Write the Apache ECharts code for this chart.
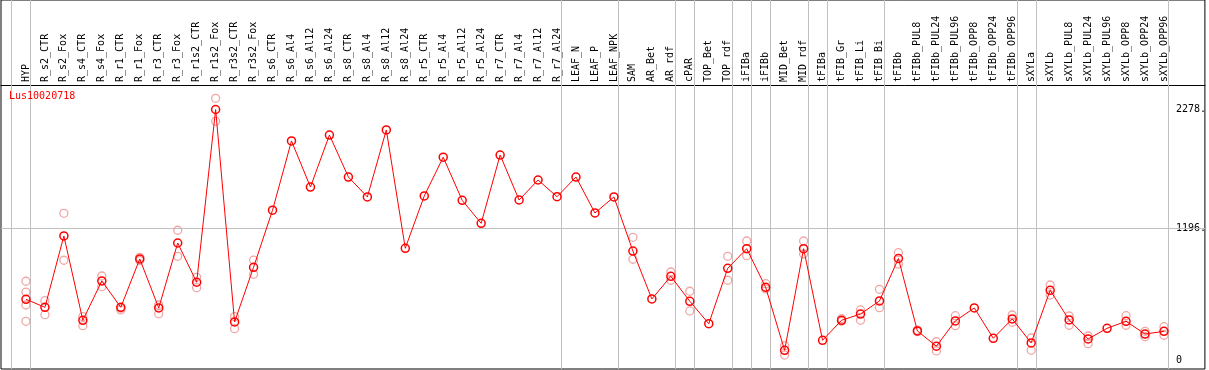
<!DOCTYPE html>
<html>
<head>
<meta charset="utf-8">
<script src="https://cdn.jsdelivr.net/npm/echarts@6/dist/echarts.min.js"></script>
<style>
  html, body { margin: 0; padding: 0; background: #fff; }
  #chart { width: 1209px; height: 370px; }
</style>
</head>
<body>
<div id="chart"></div>
<script>
var geneName = 'Lus10020718';

var categories = [
    'HYP', 'R_s2_CTR', 'R_s2_Fox', 'R_s4_CTR', 'R_s4_Fox', 'R_r1_CTR', 'R_r1_Fox',
    'R_r3_CTR', 'R_r3_Fox', 'R_r1s2_CTR', 'R_r1s2_Fox', 'R_r3s2_CTR', 'R_r3s2_Fox',
    'R_s6_CTR', 'R_s6_Al4', 'R_s6_Al12', 'R_s6_Al24', 'R_s8_CTR', 'R_s8_Al4',
    'R_s8_Al12', 'R_s8_Al24', 'R_r5_CTR', 'R_r5_Al4', 'R_r5_Al12', 'R_r5_Al24',
    'R_r7_CTR', 'R_r7_Al4', 'R_r7_Al12', 'R_r7_Al24', 'LEAF_N', 'LEAF_P', 'LEAF_NPK',
    'SAM', 'AR_Bet', 'AR_rdf', 'cPAR', 'TOP_Bet', 'TOP_rdf', 'iFIBa', 'iFIBb',
    'MID_Bet', 'MID_rdf', 'tFIBa', 'tFIB_Gr', 'tFIB_Li', 'tFIB_Bi', 'tFIBb',
    'tFIBb_PUL8', 'tFIBb_PUL24', 'tFIBb_PUL96', 'tFIBb_OPP8', 'tFIBb_OPP24', 'tFIBb_OPP96',
    'sXYLa', 'sXYLb', 'sXYLb_PUL8', 'sXYLb_PUL24', 'sXYLb_PUL96', 'sXYLb_OPP8',
    'sXYLb_OPP24', 'sXYLb_OPP96'
];

// mean expression per sample
var meanValues = [
    552, 479, 1128, 361, 719, 479, 919,
    473, 1064, 707, 2278, 346, 843,
    1362, 1992, 1573, 2046, 1664, 1483,
    2092, 1016, 1492, 1844, 1452, 1243,
    1864, 1455, 1637, 1485, 1664, 1337, 1483,
    991, 555, 761, 534, 330, 834, 1012, 661,
    88, 1012, 179, 361, 418, 537, 923,
    264, 125, 355, 473, 197, 373,
    155, 634, 364, 191, 288, 352,
    236, 261
];

// individual replicates per sample (empty = only one)
var replicateValues = [
    [716, 618, 500, 352], [539, 412], [1334, 907], [394, 312], [764, 667], [470, 455], [934, 905],
    [500, 421], [1180, 943], [752, 658], [2380, 2171], [394, 285], [909, 779],
    [], [], [], [], [], [],
    [], [], [], [], [], [],
    [], [], [], [], [], [], [],
    [1116, 916], [], [800, 725], [625, 446], [], [943, 725], [1082, 949], [694, 646],
    [130, 45], [1082, 964], [], [376, 352], [455, 361], [643, 476], [976, 873],
    [272, 258], [166, 82], [403, 312], [], [], [409, 343],
    [200, 88], [682, 591], [400, 316], [218, 148], [], [403, 316],
    [261, 212], [303, 225]
];

var yLabelValues = [0, 1196, 2278];
var hLineValues = [1196];
// group separators are drawn just right of these sample indices
var separatorAfter = [-1, 0, 28, 31, 34, 35, 37, 38, 39, 41, 42, 45, 52, 53, 60];

var monoFont = '"DejaVu Sans Mono", "Liberation Mono", monospace';
var sepShift = 4.5 / 19;

var meanData = meanValues.map(function (v, i) { return [i, v]; });
var repData = [];
replicateValues.forEach(function (list, i) {
    list.forEach(function (v) { repData.push([i, v]); });
});

var markLines = separatorAfter.map(function (i) {
    return { xAxis: i + sepShift };
}).concat(hLineValues.map(function (v) {
    return { yAxis: v };
}));

var chart = echarts.init(document.getElementById('chart'), null, { renderer: 'canvas' });
var options = {
    animation: false,
    backgroundColor: '#fff',
    title: {
        text: geneName,
        left: 9,
        top: 91,
        padding: 0,
        textStyle: {
            color: '#ff0000',
            fontFamily: monoFont,
            fontSize: 10,
            fontWeight: 'normal'
        }
    },
    grid: {
        left: 1,
        right: 2,
        top: 0,
        bottom: 1,
        show: true,
        borderColor: '#000',
        borderWidth: 1,
        backgroundColor: '#fff'
    },
    xAxis: {
        type: 'value',
        position: 'top',
        offset: -85,
        min: -25 / 19,
        max: 1181 / 19,
        axisLine: { show: true, onZero: false, lineStyle: { color: '#000', width: 1 } },
        axisTick: { show: false },
        splitLine: { show: false },
        axisLabel: {
            customValues: categories.map(function (c, i) { return i; }),
            rotate: -90,
            margin: 3,
            color: '#000',
            fontFamily: monoFont,
            fontSize: 10,
            formatter: function (v) { return categories[Math.round(v)] || ''; }
        }
    },
    yAxis: {
        type: 'value',
        position: 'right',
        min: -82,
        max: 3274,
        axisLine: { show: false },
        axisTick: { show: false },
        splitLine: { show: false },
        axisLabel: {
            customValues: yLabelValues,
            inside: true,
            align: 'left',
            margin: 29,
            color: '#000',
            fontFamily: monoFont,
            fontSize: 10,
            formatter: function (v) { return v === 0 ? '0' : v + '.'; }
        }
    },
    series: [
        {
            type: 'scatter',
            data: repData,
            symbol: 'circle',
            symbolSize: 8,
            itemStyle: {
                color: 'rgba(0,0,0,0)',
                borderColor: '#ec9090',
                borderWidth: 1.3
            },
            silent: true,
            z: 2,
            markLine: {
                silent: true,
                symbol: ['none', 'none'],
                label: { show: false },
                lineStyle: { color: '#c0c0c0', width: 1, type: 'solid' },
                data: markLines,
                z: 1
            }
        },
        {
            type: 'line',
            data: meanData,
            symbol: 'circle',
            symbolSize: 8,
            showAllSymbol: true,
            lineStyle: { color: '#ff0000', width: 1 },
            itemStyle: {
                color: 'rgba(0,0,0,0)',
                borderColor: '#ff0000',
                borderWidth: 1.5
            },
            z: 3
        }
    ]
};
chart.setOption(options);
</script>
</body>
</html>
